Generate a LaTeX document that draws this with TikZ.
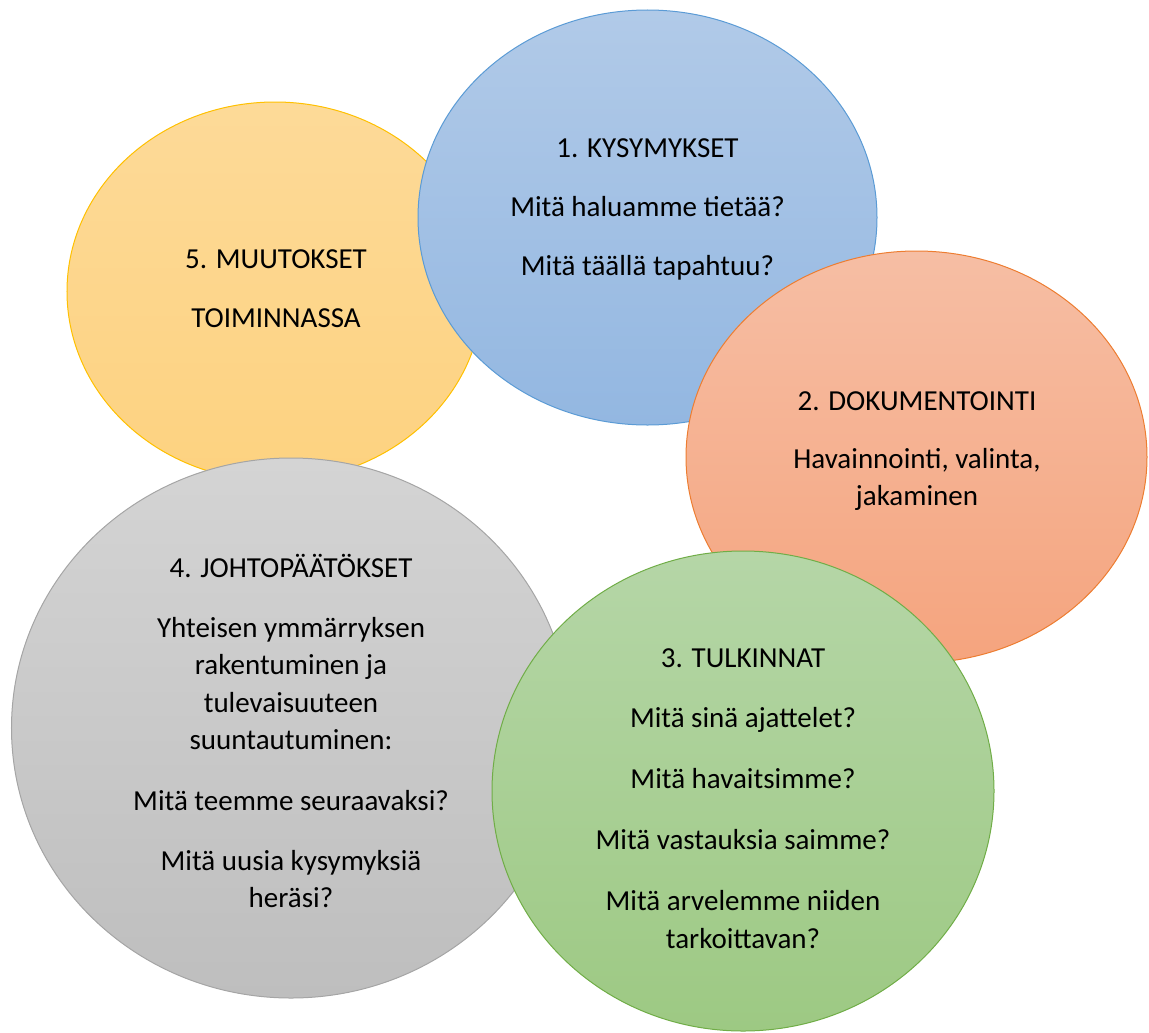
\documentclass[tikz,border=0pt]{standalone}
\usepackage{fontspec}
\setmainfont{Carlito}
\usetikzlibrary{shapes.geometric}
\definecolor{ylwD}{HTML}{FFC000}
\definecolor{ylwT}{HTML}{FDDA98}
\definecolor{ylwB}{HTML}{FDD280}
\definecolor{bluD}{HTML}{5B9BD5}
\definecolor{bluT}{HTML}{B1CAE8}
\definecolor{bluB}{HTML}{93B7E1}
\definecolor{orgD}{HTML}{ED7D31}
\definecolor{orgT}{HTML}{F6BEA4}
\definecolor{orgB}{HTML}{F5A47E}
\definecolor{gryD}{HTML}{A5A5A5}
\definecolor{gryT}{HTML}{D4D4D4}
\definecolor{gryB}{HTML}{BEBEBE}
\definecolor{grnD}{HTML}{70AD47}
\definecolor{grnT}{HTML}{B5D6A7}
\definecolor{grnB}{HTML}{9DC983}
\begin{document}
\begin{tikzpicture}[x=1bp,y=-1bp,
  blob/.style={ellipse, inner sep=0pt, outer sep=0pt, line width=1bp},
  txt/.style={anchor=base, inner sep=0pt, text=black,
    font=\fontsize{29bp}{35bp}\selectfont}]
\useasboundingbox (0,0) rectangle (1149,1033);
% 5 yellow
\node[blob, minimum width=416bp, minimum height=379bp, draw=ylwD,
  top color=ylwT, bottom color=ylwB] (e5) at (275,291.5) {};
\node[txt] (t5a) at (276,268) {5. MUUTOKSET};
\node[txt] (t5b) at (276,327) {TOIMINNASSA};
% 1 blue
\node[blob, minimum width=459bp, minimum height=415bp, draw=bluD,
  top color=bluT, bottom color=bluB] (e1) at (647.5,217.5) {};
\node[txt] (t1a) at (647.5,157) {1. KYSYMYKSET};
\node[txt] (t1b) at (647.5,216) {Mitä haluamme tietää?};
\node[txt] (t1c) at (647.5,275) {Mitä täällä tapahtuu?};
% 2 orange
\node[blob, minimum width=461bp, minimum height=412bp, draw=orgD,
  top color=orgT, bottom color=orgB] (e2) at (916.5,457) {};
\node[txt] (t2a) at (917,410) {2. DOKUMENTOINTI};
\node[txt] (t2b) at (917,468) {Havainnointi, valinta,};
\node[txt] (t2c) at (917,505) {jakaminen};
% 4 gray
\node[blob, minimum width=559bp, minimum height=540bp, draw=gryD,
  top color=gryT, bottom color=gryB] (e4) at (291,728) {};
\node[txt] (t4a) at (291,577) {4. JOHTOPÄÄTÖKSET};
\node[txt] (t4b) at (291,637.5) {Yhteisen ymmärryksen};
\node[txt] (t4c) at (291,674.5) {rakentuminen ja};
\node[txt] (t4d) at (291,712) {tulevaisuuteen};
\node[txt] (t4e) at (291,749.5) {suuntautuminen:};
\node[txt] (t4f) at (291,810.5) {Mitä teemme seuraavaksi?};
\node[txt] (t4g) at (291,870.5) {Mitä uusia kysymyksiä};
\node[txt] (t4h) at (291,907.5) {heräsi?};
% 3 green
\node[blob, minimum width=502bp, minimum height=480bp, draw=grnD,
  top color=grnT, bottom color=grnB] (e3) at (743,791) {};
\node[txt] (t3a) at (743,667) {3. TULKINNAT};
\node[txt] (t3b) at (743,727.5) {Mitä sinä ajattelet?};
\node[txt] (t3c) at (743,788) {Mitä havaitsimme?};
\node[txt] (t3d) at (743,849.5) {Mitä vastauksia saimme?};
\node[txt] (t3e) at (743,910) {Mitä arvelemme niiden};
\node[txt] (t3f) at (743,948) {tarkoittavan?};
\end{tikzpicture}
\end{document}
